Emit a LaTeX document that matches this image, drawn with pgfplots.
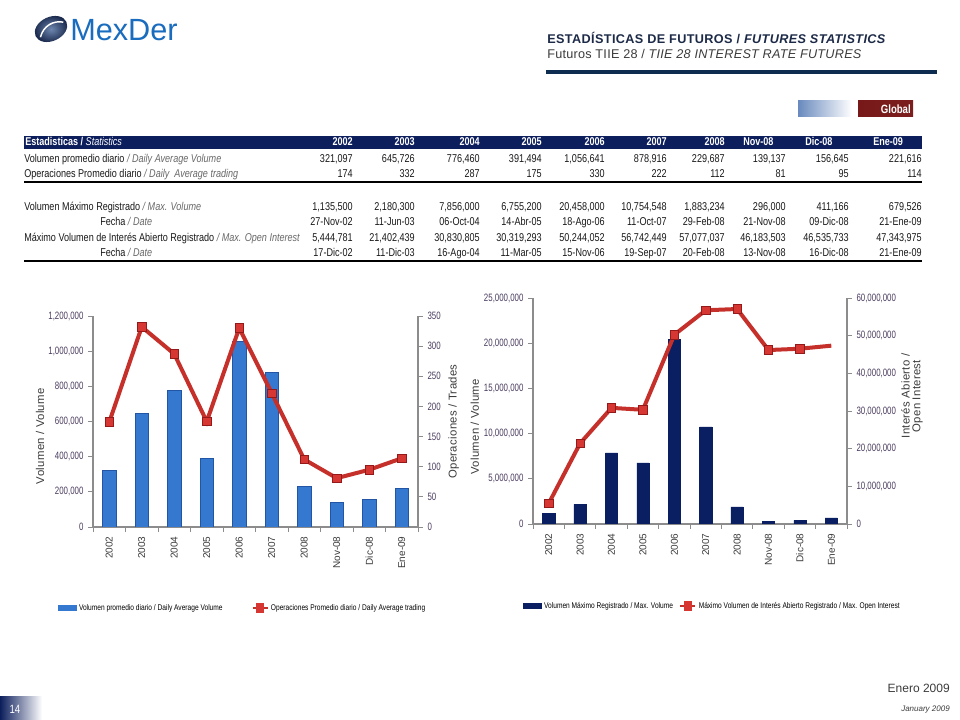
\documentclass[border=0pt]{standalone}
\usepackage{fontspec}
\setmainfont{Liberation Sans}
\newfontfamily\narrow[FakeStretch=0.8]{Liberation Sans}
\newfontfamily\tnarrow[FakeStretch=0.74]{Liberation Sans}
\usepackage{pgfplots}
\pgfplotsset{compat=1.18}

\definecolor{navyhead}{RGB}{12,30,92}
\definecolor{titlenavy}{RGB}{28,42,72}
\definecolor{rulenavy}{RGB}{14,44,80}
\definecolor{logoblue}{RGB}{25,108,190}
\definecolor{logodark}{RGB}{20,35,70}
\definecolor{logolight}{RGB}{110,135,175}
\definecolor{tabtext}{RGB}{25,25,25}
\definecolor{engray}{RGB}{105,105,105}
\definecolor{axisgray}{RGB}{140,140,140}
\definecolor{ticktext}{RGB}{75,60,95}
\definecolor{labelgray}{RGB}{60,60,60}
\definecolor{barblue}{RGB}{52,120,208}
\definecolor{blueedge}{RGB}{35,85,165}
\definecolor{navydark}{RGB}{10,30,98}
\definecolor{linered}{RGB}{198,48,42}
\definecolor{markred}{RGB}{214,55,50}
\definecolor{markdark}{RGB}{150,25,25}

\newcommand{\tf}{\narrow\fontsize{8.5}{10}\selectfont}
\newcommand{\en}[1]{{\itshape\color{engray}#1}}
\newcommand{\lf}{\fontsize{8.5}{8}\selectfont\addfontfeature{LetterSpace=3}}

\pgfplotsset{
  dualbase/.style={
    scale only axis, xmin=-0.5, xmax=9.5, ymin=0,
    axis line style={draw=axisgray, line width=0.8pt},
    tick align=outside, major tick length=3.6pt,
    every tick/.style={draw=axisgray, line width=0.6pt},
    yticklabel style={font=\tnarrow\fontsize{8}{9}\selectfont, text=ticktext,
      /pgf/number format/fixed, /pgf/number format/precision=0,
      /pgf/number format/1000 sep={,}, /pgf/number format/assume math mode=true},
    xticklabel style={rotate=90, anchor=east, font=\fontsize{7.5}{8}\selectfont, text=labelgray},
    scaled y ticks=false,
    xtick={-0.5,0.5,...,9.5}, x tick label as interval,
    xticklabels={2002,2003,2004,2005,2006,2007,2008,Nov-08,Dic-08,Ene-09},
    legend style={draw=none, fill=none, font=\narrow\fontsize{6.2}{7}\selectfont,
      legend columns=2, /tikz/every even column/.append style={column sep=20pt}},
  },
  redline/.style={draw=linered, line width=3pt, mark=square*, mark size=3.2pt,
    mark options={fill=markred, draw=markdark, line width=0.5pt},
    legend image code/.code={
      \draw[linered, line width=0.9pt] (0cm,0cm) -- (0.4cm,0cm);
      \fill[markred] (0.14cm,-0.07cm) rectangle (0.26cm,0.07cm);}},
}

\begin{document}
\begin{tikzpicture}[x=0.75pt,y=0.75pt]
\path[use as bounding box] (0,0) rectangle (960,720);
\fill[white] (0,0) rectangle (960,720);

% logo
\begin{scope}[shift={(51,691)}, rotate=25]
  \shade[inner color=logolight, outer color=logodark] (0,0) ellipse (17 and 12);
  \draw[white, line width=1.1pt] (-13,-3) .. controls (-6,6) and (6,7) .. (14,1);
\end{scope}
\node[anchor=west, inner sep=0, text=logoblue, font=\fontsize{23}{23}\selectfont] at (70,690) {MexDer};

% titles
\node[anchor=base west, inner sep=0, font=\bfseries\fontsize{9.5}{11}\selectfont\addfontfeature{LetterSpace=3}, text=titlenavy]
  at (547,676) {ESTADÍSTICAS DE FUTUROS / \textit{FUTURES STATISTICS}};
\node[anchor=base west, inner sep=0, font=\fontsize{9.5}{11}\selectfont\addfontfeature{LetterSpace=2}, text=labelgray]
  at (547,661) {Futuros TIIE 28 / \textit{TIIE 28 INTEREST RATE FUTURES}};
\draw[rulenavy, line width=2.4pt] (546,648) -- (937,648);

% Global badge
\shade[left color={rgb,255:red,105;green,138;blue,190}, right color=white] (798,603) rectangle (852,619);
\shade[left color={rgb,255:red,120;green,25;blue,25}, middle color={rgb,255:red,185;green,70;blue,70}, right color={rgb,255:red,125;green,30;blue,30}] (858,603) rectangle (913,619);
\node[anchor=east, inner sep=0, text=white, font=\narrow\bfseries\fontsize{9}{10}\selectfont] at (911,611) {Global};

% statistics table
\fill[navyhead] (24,571) rectangle (922,584);
\node[anchor=base west, inner sep=0, text=white, font=\tf\bfseries] at (25,574) {Estadisticas / {\mdseries\itshape Statistics}};
\foreach \x/\v in {353/2002,415/2003,480/2004,542/2005,605/2006,667/2007,725/2008}
  \node[anchor=base east, inner sep=0, text=white, font=\tf\bfseries] at (\x,574) {\v};
\foreach \x/\v in {743/Nov-08,805/Dic-08,873/Ene-09}
  \node[anchor=base west, inner sep=0, text=white, font=\tf\bfseries] at (\x,574) {\v};

\begin{scope}[every node/.style={inner sep=0, text=tabtext, font=\tf}]
\node[anchor=base west] at (24,557) {Volumen promedio diario \en{/ Daily Average Volume}};
\node[anchor=base west] at (24,542) {Operaciones Promedio diario \en{/ Daily\ \ Average trading}};
\node[anchor=base west] at (24,509) {Volumen Máximo Registrado \en{/ Max. Volume}};
\node[anchor=base west] at (100,494) {Fecha \en{/ Date}};
\node[anchor=base west] at (24,478) {Máximo Volumen de Interés Abierto Registrado \en{/ Max. Open Interest}};
\node[anchor=base west] at (100,463) {Fecha \en{/ Date}};
\foreach \x/\v in {353/{321,097},415/{645,726},480/{776,460},542/{391,494},605/{1,056,641},667/{878,916},725/{229,687},786/{139,137},849/{156,645},922/{221,616}}
  \node[anchor=base east] at (\x,557) {\v};
\foreach \x/\v in {353/174,415/332,480/287,542/175,605/330,667/222,725/112,786/81,849/95,922/114}
  \node[anchor=base east] at (\x,542) {\v};
\foreach \x/\v in {353/{1,135,500},415/{2,180,300},480/{7,856,000},542/{6,755,200},605/{20,458,000},667/{10,754,548},725/{1,883,234},786/{296,000},849/{411,166},922/{679,526}}
  \node[anchor=base east] at (\x,509) {\v};
\foreach \x/\v in {353/27-Nov-02,415/11-Jun-03,480/06-Oct-04,542/14-Abr-05,605/18-Ago-06,667/11-Oct-07,725/29-Feb-08,786/21-Nov-08,849/09-Dic-08,922/21-Ene-09}
  \node[anchor=base east] at (\x,494) {\v};
\foreach \x/\v in {353/{5,444,781},415/{21,402,439},480/{30,830,805},542/{30,319,293},605/{50,244,052},667/{56,742,449},725/{57,077,037},786/{46,183,503},849/{46,535,733},922/{47,343,975}}
  \node[anchor=base east] at (\x,478) {\v};
\foreach \x/\v in {353/17-Dic-02,415/11-Dic-03,480/16-Ago-04,542/11-Mar-05,605/15-Nov-06,667/19-Sep-07,725/20-Feb-08,786/13-Nov-08,849/16-Dic-08,922/21-Ene-09}
  \node[anchor=base east] at (\x,463) {\v};
\end{scope}
\draw[black, line width=1.4pt] (24,538) -- (922,538);
\draw[black, line width=1.4pt] (24,459) -- (922,459);

% ---- left chart: daily average volume and trades
\begin{axis}[dualbase, at={(69.75pt,144.75pt)}, anchor=south west, width=243.75pt, height=158.25pt,
  ymax=1200000, ytick={0,200000,400000,600000,800000,1000000,1200000},
  axis y line*=left, axis x line*=bottom,
  ylabel={Volumen / Volume},
  every axis y label/.style={at={(axis description cs:-0.163,0.43)}, rotate=90, anchor=center, font=\lf, text=labelgray}]
\addplot[ybar, bar width=0.41, draw=blueedge, fill=barblue]
  coordinates {(0,321097) (1,645726) (2,776460) (3,391494) (4,1056641) (5,878916) (6,229687) (7,139137) (8,156645) (9,221616)};
\end{axis}
\begin{axis}[dualbase, at={(69.75pt,144.75pt)}, anchor=south west, width=243.75pt, height=158.25pt,
  ymax=350, ytick={0,50,100,150,200,250,300,350},
  axis y line*=right, axis x line=none,
  ylabel={Operaciones / Trades},
  every axis y label/.style={at={(axis description cs:1.11,0.50)}, rotate=90, anchor=center, font=\lf, text=labelgray},
  legend style={at={(0.462,-0.384)}, anchor=center}]
\addlegendimage{legend image code/.code={\fill[barblue] (0cm,-0.06cm) rectangle (0.46cm,0.06cm);}}
\addlegendentry{Volumen promedio diario / Daily Average Volume}
\addplot[redline] coordinates {(0,174) (1,332) (2,287) (3,175) (4,330) (5,222) (6,112) (7,81) (8,95) (9,114)};
\addlegendentry{Operaciones Promedio diario / Daily Average trading}
\end{axis}

% ---- right chart: max volume and max open interest
\begin{axis}[dualbase, at={(399.75pt,147pt)}, anchor=south west, width=235.5pt, height=169.5pt,
  ymax=25000000, ytick={0,5000000,10000000,15000000,20000000,25000000},
  axis y line*=left, axis x line*=bottom,
  ylabel={Volumen / Volume},
  every axis y label/.style={at={(axis description cs:-0.185,0.43)}, rotate=90, anchor=center, font=\lf, text=labelgray}]
\addplot[ybar, bar width=0.39, draw=navydark, fill=navydark]
  coordinates {(0,1135500) (1,2180300) (2,7856000) (3,6755200) (4,20458000) (5,10754548) (6,1883234) (7,296000) (8,411166) (9,679526)};
\end{axis}
\begin{axis}[dualbase, at={(399.75pt,147pt)}, anchor=south west, width=235.5pt, height=169.5pt,
  ymax=60000000, ytick={0,10000000,20000000,30000000,40000000,50000000,60000000},
  axis y line*=right, axis x line=none,
  ylabel={Interés Abierto /\\ Open Interest},
  every axis y label/.style={at={(axis description cs:1.207,0.566)}, rotate=90, anchor=center, align=center, font=\lf, text=labelgray},
  legend style={at={(0.573,-0.363)}, anchor=center, /tikz/every even column/.append style={column sep=3pt}}]
\addlegendimage{legend image code/.code={\fill[navydark] (0cm,-0.06cm) rectangle (0.46cm,0.06cm);}}
\addlegendentry{Volumen Máximo Registrado / Max. Volume}
\addplot[redline, mark indices={1,2,3,4,5,6,7,8,9}] coordinates {(0,5444781) (1,21402439) (2,30830805) (3,30319293) (4,50244052) (5,56742449) (6,57077037) (7,46183503) (8,46535733) (9,47343975)};
\addlegendentry{Máximo Volumen de Interés Abierto Registrado / Max. Open Interest}
\end{axis}

% footer
\node[anchor=base east, inner sep=0, text=labelgray, font=\fontsize{9}{10}\selectfont] at (950,27) {Enero 2009};
\node[anchor=base east, inner sep=0, text=labelgray, font=\itshape\fontsize{6}{7}\selectfont] at (950,8) {January 2009};
\shade[left color=navyhead, right color=white] (0,0) rectangle (42,23);
\node[text=white, inner sep=0, font=\narrow\fontsize{9}{10}\selectfont] at (15,11) {14};
\end{tikzpicture}
\end{document}
